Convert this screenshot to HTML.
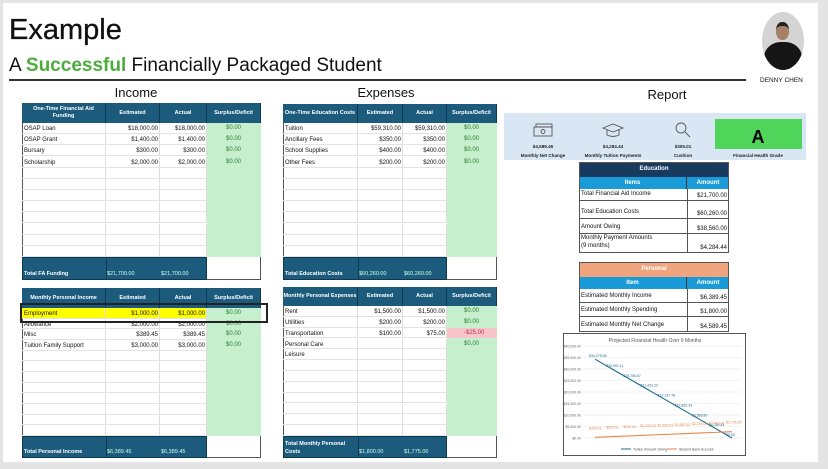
<!DOCTYPE html>
<html><head><meta charset="utf-8">
<style>
*{box-sizing:border-box;margin:0;padding:0}
body{width:828px;height:469px;background:#e4e4e4;position:relative;overflow:hidden;font-family:"Liberation Sans",sans-serif;color:#111}
.slide{position:absolute;left:3px;top:3px;width:815px;height:459px;background:#fff}
.a{position:absolute}
.t{position:absolute;font-size:6px;white-space:nowrap;line-height:1}
.cell{position:absolute;border-right:1px solid #ddd;border-bottom:1px solid #e3e3e3}
.hd{position:absolute;background:#1c5b7c;color:#fff;font-weight:bold;font-size:5.5px;display:flex;align-items:center;justify-content:center;text-align:center;border-right:1px solid #0d3a52;line-height:1.25}
.sec{position:absolute;font-size:13px;transform:translateX(-50%)}
</style></head><body>
<div class="slide"></div>
<div class="a" style="left:9px;top:14px;font-size:29px;-webkit-text-stroke:0.3px #111">Example</div>
<div class="a" style="left:9px;top:55px;font-size:19px;">A <span style="color:#4cae3c;font-weight:bold">Successful</span> Financially Packaged Student</div>
<div class="a" style="left:9px;top:79px;width:737px;height:2px;background:#333"></div>
<div class="a" style="left:762px;top:12px;width:42px;height:58px;border-radius:50%;overflow:hidden;background:#d4d4d4">
 <div style="position:absolute;left:14px;top:10px;width:13px;height:18px;border-radius:45%;background:#a78068;border-top:4px solid #222"></div>
 <div style="position:absolute;left:2px;top:30px;width:38px;height:34px;border-radius:45% 45% 0 0;background:#151515"></div>
</div>
<div class="a" style="left:760px;top:77px;font-size:6.5px;">DENNY CHEN</div>
<div class="sec" style="left:136px;top:85px">Income</div>
<div class="sec" style="left:386px;top:85px">Expenses</div>
<div class="sec" style="left:667px;top:87px">Report</div>
<div id="tables"></div>

<div class="a" style="left:504px;top:113px;width:302px;height:47px;background:#d9e7f5"></div>
<svg class="a" style="left:504px;top:113px" width="302" height="47">
<g fill="none" stroke="#555" stroke-width="0.9">
<rect x="30" y="14" width="18" height="9"/><rect x="32" y="11" width="16" height="3"/><circle cx="39" cy="18.5" r="2"/>
<path d="M99 15 L109 11 L119 15 L109 19 Z M103 17 v5 q6 3 12 0 v-5"/>
<circle cx="177" cy="15" r="5"/><path d="M181 19 L186 24"/>
</g>
<rect x="211" y="6" width="87" height="30" fill="#4fd65a"/>
<text x="254" y="30" font-size="18" font-weight="bold" text-anchor="middle" font-family="Liberation Sans">A</text>
<g font-size="4.6" font-weight="bold" text-anchor="middle" font-family="Liberation Sans" fill="#222">
<text x="39" y="35">$4,589.45</text><text x="39" y="44">Monthly Net Change</text>
<text x="109" y="35">$4,284.44</text><text x="109" y="44">Monthly Tuition Payments</text>
<text x="179" y="35">$305.01</text><text x="179" y="44">Cushion</text>
<text x="254" y="44">Financial Health Grade</text></g>
</svg>

<div id="report"></div>

<svg class="a" id="chart" style="left:563px;top:333px" width="183" height="123"></svg>
<div class="a" style="left:20px;top:303px;width:248px;height:20px;border:2px solid #222"></div>

<script>
const tuitionOwing=[34275.56,29991.11,25706.67,21422.22,17137.78,12853.33,8568.89,4284.44,0];
const bankAccount=[305.01,610.01,915.02,1220.02,1525.03,1830.03,2135.04,2440.04,2745.05];
const yTicks=[0,5000,10000,15000,20000,25000,30000,35000,40000];
const months=[1,2,3,4,5,6,7,8,9];

function fmt(v){return (v<0?'-':'')+'$'+Math.abs(v).toLocaleString('en-US',{minimumFractionDigits:2,maximumFractionDigits:2});}
const T=document.getElementById('tables');
function mk(tag,cls,style,txt,name){const e=document.createElement(tag);if(cls)e.className=cls;e.style.cssText=style;if(txt!=null)e.textContent=txt;


return e;}
function table(o){
 const c=o.cols,x0=c[0],W=c[4]-c[0];
 T.appendChild(mk('div','a',`left:${x0}px;top:${o.y}px;width:${W}px;height:${o.tot+o.th-o.y}px;border:1px solid #555`,null,o.name+'-frame'));
 const hdrs=[o.h0,'Estimated','Actual','Surplus/Deficit'];
 for(let i=0;i<4;i++)T.appendChild(mk('div','hd',`left:${c[i]}px;top:${o.y}px;width:${c[i+1]-c[i]}px;height:${o.hh}px`,hdrs[i],o.name+'-header-'+i));
 const by=o.y+o.hh,n=12,rh=(o.tot-by)/n;
 T.appendChild(mk('div','a',`left:${c[3]}px;top:${by}px;width:${c[4]-c[3]}px;height:${o.tot-by}px;background:#c6efce`,null,o.name+'-surplus-column'));
 for(let r=0;r<n;r++){const y=by+r*rh;const d=o.rows[r];
  for(let i=0;i<3;i++)T.appendChild(mk('div','cell',`left:${c[i]}px;top:${y}px;width:${c[i+1]-c[i]}px;height:${rh}px;`+(d&&d.hl?'background:#ffff00':''),null,o.name+'-cell'));
  if(!d)continue;
  if(d[3]<0)T.appendChild(mk('div','a',`left:${c[3]}px;top:${y}px;width:${c[4]-c[3]}px;height:${rh}px;background:#f8c5cd`,null,o.name+'-deficit-cell'));
  T.appendChild(mk('div','t',`left:${c[0]+2}px;top:${y+3}px`,d[0],o.name+'-label'));
  if(d[1]!=null)T.appendChild(mk('div','t',`right:${828-c[2]+2}px;top:${y+3}px`,fmt(d[1]),o.name+'-estimated'));
  if(d[2]!=null)T.appendChild(mk('div','t',`right:${828-c[3]+2}px;top:${y+3}px`,fmt(d[2]),o.name+'-actual'));
  if(d[3]!=null)T.appendChild(mk('div','t',`left:${(c[3]+c[4])/2-8}px;top:${y+2}px;color:${d[3]<0?'#c0304a':'#2e7d32'}`,fmt(d[3]),o.name+'-surplus'));
 }
 T.appendChild(mk('div','a',`left:${c[0]}px;top:${o.tot}px;width:${c[3]-c[0]}px;height:${o.th}px;background:#1c5b7c;border:1px solid #0d3a52`,null,o.name+'-total-row'));
 T.appendChild(mk('div','a',`left:${c[1]}px;top:${o.tot}px;width:1px;height:${o.th}px;background:#0d3a52`,null,o.name+'-total-divider'));
 const lab=mk('div','t',`left:${c[0]+2}px;bottom:${469-o.tot-o.th+2}px;color:#fff;font-weight:bold;font-size:5.5px;line-height:1.5;white-space:pre`,o.totL,o.name+'-total-label');
 T.appendChild(lab);
 T.appendChild(mk('div','t',`left:${c[1]+1}px;top:${o.tot+o.th-8}px;color:#cfe;font-size:5.5px`,o.totE,o.name+'-total-estimated'));
 T.appendChild(mk('div','t',`left:${c[2]+1}px;top:${o.tot+o.th-8}px;color:#cfe;font-size:5.5px`,o.totA,o.name+'-total-actual'));
}
const ic=[22,106,160,207,261], ec=[283,358,403,447,497];
table({name:'fa-funding',cols:ic,y:103,hh:20,tot:257,th:23,h0:'One-Time Financial Aid Funding',
 rows:[['OSAP Loan',18000,18000,0],['OSAP Grant',1400,1400,0],['Bursary',300,300,0],['Scholarship',2000,2000,0]],totL:'Total FA Funding',totE:'$21,700.00',totA:'$21,700.00'});
table({name:'education-costs',cols:ec,y:104,hh:19,tot:257,th:23,h0:'One-Time Education Costs',
 rows:[['Tuition',59310,59310,0],['Ancillary Fees',350,350,0],['School Supplies',400,400,0],['Other Fees',200,200,0]],totL:'Total Education Costs',totE:'$60,260.00',totA:'$60,260.00'});
const emp=['Employment',1000,1000,0];emp.hl=1;
table({name:'personal-income',cols:ic,y:288,hh:20,tot:436,th:22,h0:'Monthly Personal Income',
 rows:[emp,['Allowance',2000,2000,0],['Misc',389.45,389.45,0],['Tuition Family Support',3000,3000,0]],totL:'Total Personal Income',totE:'$6,389.45',totA:'$6,389.45'});
table({name:'personal-expenses',cols:ec,y:287,hh:19,tot:436,th:22,h0:'Monthly Personal Expenses',
 rows:[['Rent',1500,1500,0],['Utilities',200,200,0],['Transportation',100,75,-25],['Personal Care',null,null,0],['Leisure',null,null,null]],totL:'Total Monthly Personal\nCosts',totE:'$1,800.00',totA:'$1,775.00'});

const R=document.getElementById('report');
function rt(name,y,title,tc,h1,rows){
 const x=579,w=150,m=687;
 R.appendChild(mk('div','a',`left:${x}px;top:${y}px;width:${w}px;height:15px;background:${tc};color:#fff;font-size:6px;font-weight:bold;text-align:center;line-height:15px`,title,name+'-title'));
 R.appendChild(mk('div','a',`left:${x}px;top:${y+15}px;width:${m-x}px;height:12px;background:#1a9ad6;color:#fff;font-size:6px;font-weight:bold;text-align:center;line-height:12px;border-right:1px solid #333`,h1,name+'-items-header'));
 R.appendChild(mk('div','a',`left:${m}px;top:${y+15}px;width:${x+w-m}px;height:12px;background:#1a9ad6;color:#fff;font-size:6px;font-weight:bold;text-align:center;line-height:12px`,'Amount',name+'-amount-header'));
 let yy=y+27;
 rows.forEach(r=>{const h=r[2];
  R.appendChild(mk('div','a',`left:${x}px;top:${yy}px;width:${w}px;height:${h}px;border:1px solid #555;border-top:none`,null,name+'-row'));
  R.appendChild(mk('div','a',`left:${m}px;top:${yy}px;width:1px;height:${h}px;background:#555`,null,name+'-row-divider'));
  R.appendChild(mk('div','t',`left:${x+2}px;bottom:${469-yy-h+2}px;white-space:pre;line-height:1.3`,r[0],name+'-item'));
  R.appendChild(mk('div','t',`right:${828-x-w+2}px;bottom:${469-yy-h+2}px`,r[1],name+'-amount'));
  yy+=h;});
 R.appendChild(mk('div','a',`left:${x}px;top:${y}px;width:${w}px;height:${yy-y}px;border:1px solid #555`,null,name+'-frame'));
}
rt('education-table',162,'Education','#173a5e','Items',[['Total Financial Aid Income','$21,700.00',12],['Total Education Costs','$60,260.00',18],['Amount Owing','$38,560.00',15],['Monthly Payment Amounts\n(9 months)','$4,284.44',19]]);
rt('personal-table',262,'Personal','#f0a57e','Item',[['Estimated Monthly Income','$6,389.45',14],['Estimated Monthly Spending','$1,800.00',14],['Estimated Monthly Net Change','$4,589.45',15]]);

const S=document.getElementById('chart'),NS='http://www.w3.org/2000/svg';
function el(t,a,txt){const e=document.createElementNS(NS,t);for(const k in a)e.setAttribute(k,a[k]);if(txt!=null)e.textContent=txt;S.appendChild(e);return e;}
const x0=32,x1=169,y0=105,y1=13;
const X=i=>x0+(x1-x0)*i/(months.length-1);
const Y=v=>y0-(y0-y1)*v/40000;
let e=el('rect',{x:0.5,y:0.5,width:182,height:122,fill:'#fff',stroke:'#555'});

e=el('text',{x:92,y:9,'font-size':5,'text-anchor':'middle',fill:'#555'},'Projected Financial Health Over 9 Months');

yTicks.forEach(v=>{
 const g=el('line',{x1:20,x2:178,y1:Y(v),y2:Y(v),stroke:'#e4e4e4','stroke-width':0.5});
 
 const t=el('text',{x:18,y:Y(v)+1.5,'font-size':3.5,'text-anchor':'end',fill:'#666'},fmt(v));
 
});
function series(arr,col,name,dy){
 const p=el('polyline',{points:arr.map((v,i)=>X(i)+','+Y(v)).join(' '),fill:'none',stroke:col,'stroke-width':1.1});
 
 arr.forEach((v,i)=>{const t=el('text',{x:X(i)+(dy<0?-6:-2),y:Y(v)+dy,'font-size':3.5,fill:col},fmt(v));
  });
}
series(tuitionOwing,'#1f6b8e','tuition-owing',-2);
series(bankAccount,'#e8864a','bank-account',-8);
e=el('line',{x1:58,x2:68,y1:116,y2:116,stroke:'#1f6b8e','stroke-width':1});
e=el('text',{x:70,y:117.5,'font-size':3.5,fill:'#555'},'Tuition Amount Owing');
e=el('line',{x1:104,x2:114,y1:116,y2:116,stroke:'#e8864a','stroke-width':1});
e=el('text',{x:116,y:117.5,'font-size':3.5,fill:'#555'},'Student Bank Account');
</script>
</body></html>
